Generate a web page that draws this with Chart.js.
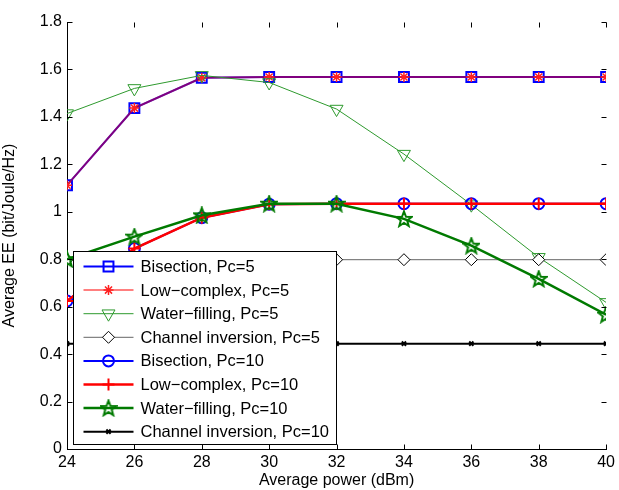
<!DOCTYPE html>
<html>
<head>
<meta charset="utf-8">
<script src="https://cdn.jsdelivr.net/npm/chart.js@4"></script>
<style>
  body { margin: 0; background: #fff; }
  #wrap { width: 619px; height: 490px; }
</style>
</head>
<body>
<div id="wrap"><canvas id="ee-chart" width="619" height="490"></canvas></div>
<script>
// values
var powers   = [24, 26, 28, 30, 32, 34, 36, 38, 40];
var bisect5  = [1.112, 1.437, 1.565, 1.568, 1.568, 1.568, 1.568, 1.568, 1.568];
var lowc5    = [1.112, 1.437, 1.565, 1.568, 1.568, 1.568, 1.568, 1.568, 1.568];
var water5   = [1.414, 1.52, 1.575, 1.545, 1.433, 1.243, 1.03, 0.808, 0.618];
var chinv5   = [0.798, 0.798, 0.798, 0.798, 0.798, 0.798, 0.798, 0.798, 0.798];
var bisect10 = [0.624, 0.845, 0.975, 1.032, 1.034, 1.034, 1.034, 1.034, 1.034];
var lowc10   = [0.624, 0.845, 0.975, 1.032, 1.034, 1.034, 1.034, 1.034, 1.034];
var water10  = [0.80, 0.895, 0.985, 1.034, 1.034, 0.97, 0.857, 0.717, 0.566];
var chinv10  = [0.444, 0.444, 0.444, 0.444, 0.444, 0.444, 0.444, 0.444, 0.444];
var yTicks   = [0, 0.2, 0.4, 0.6, 0.8, 1, 1.2, 1.4, 1.6, 1.8];

var FONT = "'Liberation Sans', Arial, sans-serif";

// pentagram marker for water-filling Pc=10
function makeStar(color) {
    var c = document.createElement('canvas');
    c.width = 18; c.height = 18;
    var g = c.getContext('2d');
    g.strokeStyle = color;
    g.lineWidth = 2;
    g.beginPath();
    for (var k = 0; k < 10; k++) {
        var r = (k % 2 == 0) ? 8 : 3.4;
        var a = -Math.PI / 2 + k * Math.PI / 5;
        var px = 9 + r * Math.cos(a), py = 9.5 + r * Math.sin(a);
        if (k == 0) g.moveTo(px, py); else g.lineTo(px, py);
    }
    g.closePath();
    g.stroke();
    return c;
}
var starImg = makeStar('#007a00');

function pts(arr) {
    var out = [];
    for (var i = 0; i < powers.length; i++) out.push({x: powers[i], y: arr[i]});
    return out;
}

var series = [
    {label: 'Bisection, Pc=5', data: bisect5, color: '#0000ff', lw: 2, ps: 'rect', r: 7, bw: 2, fill: 'rgba(0,0,0,0)'},
    {label: 'Low\u2212complex, Pc=5', data: lowc5, color: 'rgba(255,0,0,0.5)', mc: '#ff2020', lw: 2, ps: 'star', r: 5, bw: 1.5, fill: 'rgba(0,0,0,0)'},
    {label: 'Water\u2212filling, Pc=5', data: water5, color: '#2e9a2e', lw: 1, ps: 'triangle', rot: 180, r: 7.5, bw: 1, fill: 'rgba(255,255,255,0)'},
    {label: 'Channel inversion, Pc=5', data: chinv5, color: '#666666', mc: '#000000', lw: 1, ps: 'rectRot', r: 6, bw: 1, fill: '#ffffff'},
    {label: 'Bisection, Pc=10', data: bisect10, color: '#0000ff', lw: 2, ps: 'circle', r: 5.5, bw: 2, fill: 'rgba(0,0,0,0)'},
    {label: 'Low\u2212complex, Pc=10', data: lowc10, color: '#ff0000', lw: 2.5, ps: 'cross', r: 6, bw: 2, fill: 'rgba(0,0,0,0)'},
    {label: 'Water\u2212filling, Pc=10', data: water10, color: '#007a00', lw: 2.5, ps: starImg, r: 8, bw: 2, fill: 'rgba(0,0,0,0)'},
    {label: 'Channel inversion, Pc=10', data: chinv10, color: '#000000', lw: 2, ps: 'crossRot', r: 3, bw: 2, fill: 'rgba(0,0,0,0)'}
];

var datasets = [];
for (var i = 0; i < series.length; i++) {
    var s = series[i];
    datasets.push({
        label: s.label,
        data: pts(s.data),
        borderColor: s.color,
        borderWidth: s.lw,
        pointStyle: s.ps,
        pointRotation: s.rot || 0,
        pointRadius: s.r,
        pointBorderWidth: s.bw,
        pointBorderColor: s.mc || s.color,
        pointBackgroundColor: s.fill,
        showLine: true,
        fill: false,
        tension: 0,
        order: series.length - i
    });
}

// box, inward ticks and the legend, drawn matlab style
var matlabBits = {
    id: 'matlabBits',
    afterDatasetsDraw: function(chart) {
        var ctx = chart.ctx, ca = chart.chartArea;
        var xs = chart.scales.x, ys = chart.scales.y;
        ctx.save();
        ctx.strokeStyle = '#000';
        ctx.lineWidth = 1;
        var L = Math.round(ca.left) + 0.5, R = Math.round(ca.right) + 0.5;
        var T = Math.round(ca.top) + 0.5, B = Math.round(ca.bottom) + 0.5;
        ctx.beginPath();
        for (var i = 0; i < powers.length; i++) {
            var px = Math.round(xs.getPixelForValue(powers[i])) + 0.5;
            ctx.moveTo(px, B); ctx.lineTo(px, B - 5);
            ctx.moveTo(px, T); ctx.lineTo(px, T + 5);
        }
        for (var j = 0; j < yTicks.length; j++) {
            var py = Math.round(ys.getPixelForValue(yTicks[j])) + 0.5;
            ctx.moveTo(L, py); ctx.lineTo(L + 5, py);
            ctx.moveTo(R, py); ctx.lineTo(R - 5, py);
        }
        ctx.stroke();

        // legend box
        var bx = L + 6, bw = 263, bh = 193, by = B - 5 - bh;
        ctx.fillStyle = '#fff';
        ctx.fillRect(bx, by, bw, bh);
        ctx.strokeRect(bx, by, bw, bh);
        ctx.font = '16.5px ' + FONT;
        ctx.textBaseline = 'middle';
        for (var k = 0; k < series.length; k++) {
            var s = series[k];
            var cy = by + 15 + k * 23.6;
            ctx.strokeStyle = s.color;
            ctx.lineWidth = s.lw;
            ctx.beginPath();
            ctx.moveTo(bx + 10, cy); ctx.lineTo(bx + 60, cy);
            ctx.stroke();
            ctx.strokeStyle = s.mc || s.color;
            ctx.fillStyle = s.fill;
            ctx.lineWidth = s.bw;
            Chart.helpers.drawPoint(ctx, {pointStyle: s.ps, radius: s.r, rotation: s.rot || 0, borderWidth: s.bw}, bx + 35, cy);
            ctx.fillStyle = '#000';
            ctx.fillText(s.label, bx + 67, cy + 1);
        }
        ctx.restore();
    }
};

var eeChart = new Chart(document.getElementById('ee-chart'), {
    type: 'scatter',
    data: {datasets: datasets},
    options: {
        responsive: false,
        devicePixelRatio: 1,
        animation: false,
        layout: {padding: {top: 22, right: 11, left: 0, bottom: 0}},
        plugins: {
            legend: {display: false},
            tooltip: {enabled: false}
        },
        scales: {
            x: {
                type: 'linear',
                min: 24, max: 40,
                afterBuildTicks: function(scale) {
                    scale.ticks = powers.map(function(v) { return {value: v}; });
                },
                afterFit: function(scale) { scale.height = 41; },
                grid: {display: false, drawTicks: false},
                border: {color: '#000', width: 1},
                ticks: {color: '#000', font: {family: FONT, size: 16}, padding: 4, maxRotation: 0},
                title: {display: true, text: 'Average power (dBm)', color: '#000', font: {family: FONT, size: 16}, padding: {top: 0, bottom: 0}}
            },
            y: {
                min: 0, max: 1.8,
                afterBuildTicks: function(scale) {
                    scale.ticks = yTicks.map(function(v) { return {value: v}; });
                },
                afterFit: function(scale) { scale.width = 67; },
                grid: {display: false, drawTicks: false},
                border: {color: '#000', width: 1},
                ticks: {
                    color: '#000', font: {family: FONT, size: 16}, padding: 5,
                    callback: function(v) { return String(Math.round(v * 10) / 10); }
                },
                title: {display: true, text: 'Average EE (bit/Joule/Hz)', color: '#000', font: {family: FONT, size: 16}, padding: {top: 0, bottom: 2}}
            }
        }
    },
    plugins: [matlabBits]
});
</script>
</body>
</html>
